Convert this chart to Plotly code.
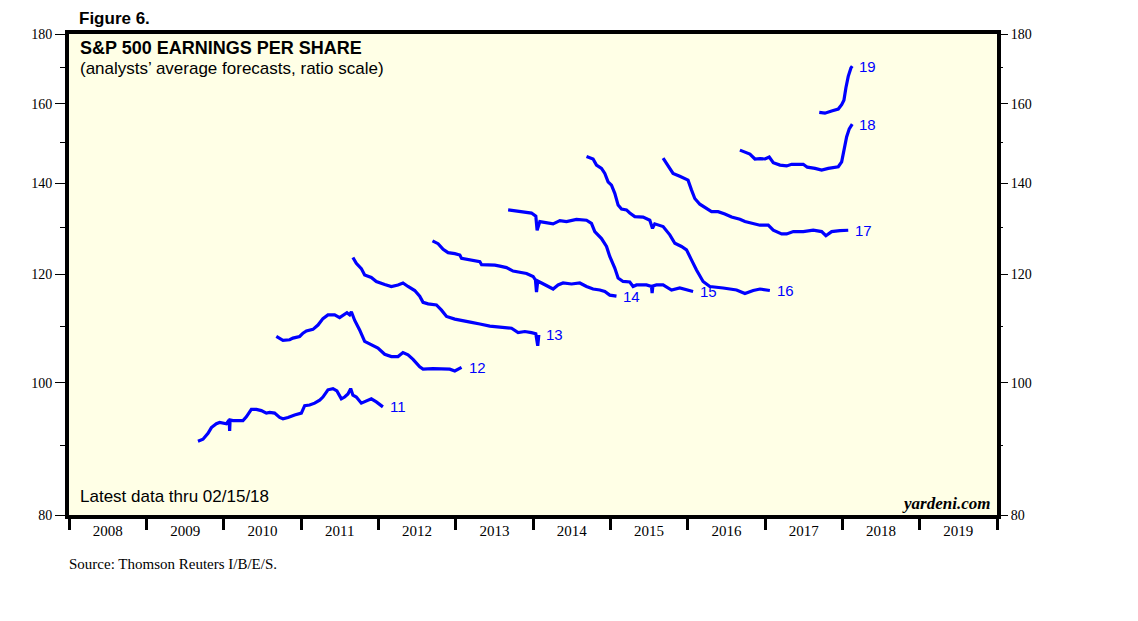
import datetime as dt
import math
import plotly.graph_objects as go

# ---------------- data (decimal years, EPS forecast $) ----------------
s11_x = [2009.666, 2009.731, 2009.796, 2009.840, 2009.904, 2009.947, 2010.034, 2010.070, 2010.076, 2010.082,
         2010.119, 2010.248, 2010.292, 2010.357, 2010.422, 2010.486, 2010.551, 2010.594, 2010.658, 2010.723,
         2010.766, 2010.831, 2010.917, 2011.004, 2011.047, 2011.111, 2011.176, 2011.241, 2011.283, 2011.348,
         2011.413, 2011.464, 2011.521, 2011.564, 2011.607, 2011.642, 2011.671, 2011.715, 2011.780, 2011.845,
         2011.909, 2011.974, 2012.059]
s11_y = [90.6, 90.9, 91.8, 92.7, 93.3, 93.5, 93.3, 93.9, 92.2, 93.9,
         93.8, 93.8, 94.4, 95.6, 95.6, 95.4, 95.0, 95.1, 95.0, 94.3,
         94.1, 94.3, 94.7, 95.0, 96.2, 96.3, 96.6, 97.1, 97.6, 98.8,
         99.0, 98.6, 97.3, 97.6, 98.1, 99.0, 97.9, 97.6, 96.6, 97.0,
         97.3, 96.8, 96.0]

s12_x = [2010.680, 2010.766, 2010.853, 2010.895, 2010.982, 2011.025, 2011.069, 2011.154, 2011.219, 2011.283,
         2011.348, 2011.435, 2011.499, 2011.564, 2011.594, 2011.629, 2011.651, 2011.693, 2011.758, 2011.823,
         2011.909, 2011.995, 2012.082, 2012.168, 2012.254, 2012.318, 2012.383, 2012.448, 2012.534, 2012.577,
         2012.706, 2012.815, 2012.922, 2012.987, 2013.074]
s12_y = [108.1, 107.4, 107.5, 107.8, 108.1, 108.7, 109.1, 109.4, 110.2, 111.4,
         112.1, 112.1, 111.6, 112.1, 112.5, 112.1, 112.7, 111.1, 109.3, 107.2,
         106.6, 106.0, 104.9, 104.5, 104.5, 105.2, 104.8, 104.0, 102.7, 102.3,
         102.4, 102.3, 102.3, 102.0, 102.6]

s13_x = [2011.671, 2011.715, 2011.780, 2011.823, 2011.909, 2011.974, 2012.082, 2012.168, 2012.254, 2012.318,
         2012.383, 2012.470, 2012.534, 2012.577, 2012.642, 2012.750, 2012.815, 2012.880, 2012.987, 2013.074,
         2013.203, 2013.311, 2013.440, 2013.570, 2013.721, 2013.806, 2013.893, 2013.979, 2014.035, 2014.060,
         2014.074]
s13_y = [123.5, 122.3, 121.2, 119.9, 119.4, 118.6, 118.0, 117.6, 117.9, 118.3,
         117.6, 116.8, 115.7, 114.5, 114.2, 114.0, 113.0, 111.8, 111.3, 111.1,
         110.7, 110.4, 110.0, 109.8, 109.6, 108.8, 109.0, 108.8, 108.6, 106.4,
         108.4]

s14_x = [2012.699, 2012.771, 2012.836, 2012.900, 2012.987, 2013.052, 2013.074, 2013.138, 2013.224, 2013.311,
         2013.333, 2013.440, 2013.505, 2013.570, 2013.656, 2013.741, 2013.828, 2013.915, 2014.000, 2014.030,
         2014.044, 2014.060, 2014.109, 2014.194, 2014.259, 2014.323, 2014.388, 2014.497, 2014.604, 2014.691,
         2014.776, 2014.863, 2014.928, 2014.992, 2015.079]
s14_y = [127.0, 126.4, 125.2, 124.5, 124.3, 124.0, 123.3, 123.1, 122.9, 122.6,
         122.0, 122.0, 121.9, 121.7, 121.4, 120.7, 120.4, 120.2, 119.6, 118.9,
         116.5, 118.7, 118.3, 117.7, 117.1, 117.9, 118.3, 118.1, 118.3, 117.6,
         117.1, 116.9, 116.6, 115.9, 115.7]

s15_x = [2013.677, 2013.785, 2013.915, 2013.979, 2014.035, 2014.052, 2014.087, 2014.174, 2014.259, 2014.346,
         2014.432, 2014.561, 2014.691, 2014.755, 2014.798, 2014.885, 2014.950, 2014.992, 2015.057, 2015.100,
         2015.164, 2015.251, 2015.294, 2015.338, 2015.467, 2015.532, 2015.540, 2015.550, 2015.596, 2015.682,
         2015.791, 2015.898, 2015.985, 2016.070]
s15_y = [133.8, 133.6, 133.4, 133.1, 132.4, 129.3, 131.2, 131.0, 130.7, 131.4,
         131.2, 131.7, 131.5, 130.8, 129.0, 127.5, 125.8, 123.7, 121.3, 119.3,
         118.6, 118.5, 117.6, 117.9, 117.9, 117.6, 116.3, 117.7, 117.9, 117.9,
         116.9, 117.3, 116.9, 116.6]

s16_x = [2014.691, 2014.776, 2014.820, 2014.885, 2014.928, 2014.970, 2015.014, 2015.057, 2015.100, 2015.144,
         2015.208, 2015.251, 2015.316, 2015.423, 2015.510, 2015.545, 2015.574, 2015.682, 2015.769, 2015.834,
         2015.920, 2015.985, 2016.049, 2016.114, 2016.199, 2016.286, 2016.458, 2016.631, 2016.739, 2016.846,
         2016.933, 2017.061]
s16_y = [146.4, 145.8, 144.3, 143.5, 142.3, 140.3, 139.5, 137.6, 134.9, 134.0,
         133.8, 133.1, 132.3, 132.2, 131.5, 129.7, 130.7, 130.1, 128.3, 126.5,
         125.8, 125.1, 123.0, 120.9, 118.6, 117.6, 117.3, 116.9, 116.2, 116.8,
         117.1, 116.8]

s17_x = [2015.682, 2015.746, 2015.811, 2015.898, 2016.005, 2016.049, 2016.092, 2016.157, 2016.243, 2016.308,
         2016.393, 2016.480, 2016.567, 2016.674, 2016.739, 2016.846, 2016.933, 2017.040, 2017.105, 2017.213,
         2017.278, 2017.364, 2017.493, 2017.622, 2017.731, 2017.786, 2017.860, 2017.967, 2018.075]
s17_y = [146.0, 144.1, 142.3, 141.6, 140.7, 138.4, 136.4, 135.1, 134.1, 133.4,
         133.4, 132.9, 132.2, 131.7, 131.2, 130.7, 130.4, 130.4, 129.3, 128.5,
         128.5, 129.0, 129.0, 129.3, 129.0, 128.1, 129.0, 129.2, 129.3]

s18_x = [2016.674, 2016.739, 2016.803, 2016.868, 2016.933, 2016.998, 2017.053, 2017.105, 2017.192, 2017.278,
         2017.343, 2017.493, 2017.545, 2017.645, 2017.731, 2017.817, 2017.946, 2017.990, 2018.019, 2018.054,
         2018.088, 2018.127]
s18_y = [148.0, 147.4, 147.0, 145.8, 145.9, 145.8, 146.3, 144.9, 144.3, 144.1,
         144.5, 144.5, 143.8, 143.5, 143.1, 143.5, 143.9, 145.1, 148.0, 151.3,
         153.4, 154.6]

s19_x = [2017.700, 2017.773, 2017.860, 2017.946, 2017.990, 2018.019, 2018.045, 2018.075, 2018.110, 2018.127]
s19_y = [157.7, 157.5, 158.1, 158.6, 159.8, 161.0, 164.4, 167.6, 170.0, 170.5]

series_labels = ["11", "12", "13", "14", "15", "16", "17", "18", "19"]
series_x = [s11_x, s12_x, s13_x, s14_x, s15_x, s16_x, s17_x, s18_x, s19_x]
series_y = [s11_y, s12_y, s13_y, s14_y, s15_y, s16_y, s17_y, s18_y, s19_y]

y_major = [80, 100, 120, 140, 160, 180]
y_minor = [90, 110, 130, 150, 170]
x_start, x_end = 2008, 2020

# ---------------- helpers ----------------
def to_date(d):
    y = int(math.floor(d))
    a = dt.datetime(y, 1, 1)
    b = dt.datetime(y + 1, 1, 1)
    return a + (b - a) * (d - y)

OFF = 8  # default page body margin
W, H = 1138, 621
PL, PT, PR, PB = 69, 34, 997, 515          # plot area on the page
ML, MT = PL - OFF, PT - OFF
PW, PH = PR - PL, PB - PT
MR, MB = W - ML - PW, H - MT - PH

def px(x):
    return (x - PL) / PW

def py(y):
    return 1 - (y - PT) / PH

BLUE = "#0000FF"
fig = go.Figure()

for lab, xs, ys in zip(series_labels, series_x, series_y):
    fig.add_trace(go.Scatter(
        x=[to_date(v) for v in xs], y=ys, mode="lines",
        line=dict(color=BLUE, width=3.2), hoverinfo="skip", showlegend=False))
    fig.add_annotation(
        x=to_date(xs[-1]), y=math.log10(ys[-1]), xref="x", yref="y",
        text=lab, showarrow=False, xanchor="left", yanchor="middle", xshift=5,
        font=dict(family="Liberation Sans, Arial", size=15, color=BLUE))

# invisible trace for the right axis
fig.add_trace(go.Scatter(x=[to_date(s19_x[0])], y=[s19_y[0]], yaxis="y2", mode="markers",
                         marker=dict(opacity=0), hoverinfo="skip", showlegend=False))

yr = [math.log10(80), math.log10(180)]
serif = "Liberation Serif, Times New Roman, serif"
yaxis_common = dict(
    type="log", range=yr, tickvals=y_major, ticktext=[str(v) for v in y_major],
    ticks="outside", ticklen=10, tickwidth=1, tickcolor="black",
    minor=dict(tickvals=y_minor, ticks="outside", ticklen=5, tickwidth=1, tickcolor="black", showgrid=False),
    showgrid=False, zeroline=False, tickfont=dict(family=serif, size=14, color="black"),
    fixedrange=True)

fig.update_layout(
    width=W, height=H, margin=dict(l=ML, r=MR, t=MT, b=MB),
    paper_bgcolor="white", plot_bgcolor="#FFFFE6",
    xaxis=dict(type="date", range=[to_date(x_start), to_date(x_end)],
               tick0="2008-01-01", dtick="M12", tickformat="%Y", ticklabelmode="period",
               ticks="outside", ticklen=11, tickwidth=3, tickcolor="black",
               ticklabelstandoff=-12,
               showline=True, linewidth=4, linecolor="black", mirror=True,
               showgrid=False, zeroline=False,
               tickfont=dict(family=serif, size=15, color="black"), fixedrange=True),
    yaxis=dict(**yaxis_common, side="left", showline=True, linewidth=4, linecolor="black", mirror=True),
    yaxis2=dict(**yaxis_common, side="right", overlaying="y", showline=False),
)

sans = "Liberation Sans, Arial, Helvetica"
anns = [
    dict(x=px(78), y=py(8), text="<b>Figure 6.</b>", size=17, family=sans, xanchor="left", yanchor="top"),
    dict(x=px(79), y=py(48), text="<b>S&P 500 EARNINGS PER SHARE</b>", size=18, family=sans, xanchor="left", yanchor="middle"),
    dict(x=px(79), y=py(68), text="(analysts’ average forecasts, ratio scale)", size=17, family=sans, xanchor="left", yanchor="middle"),
    dict(x=px(79), y=py(496), text="Latest data thru 02/15/18", size=17, family=sans, xanchor="left", yanchor="middle"),
    dict(x=px(991), y=py(503), text="<b><i>yardeni.com</i></b>", size=17, family=serif, xanchor="right", yanchor="middle"),
    dict(x=px(68), y=py(564), text="Source: Thomson Reuters I/B/E/S.", size=15, family=serif, xanchor="left", yanchor="middle"),
]
for a in anns:
    fig.add_annotation(x=a["x"], y=a["y"], xref="paper", yref="paper", text=a["text"],
                       showarrow=False, xanchor=a["xanchor"], yanchor=a["yanchor"], borderpad=0,
                       font=dict(family=a["family"], size=a["size"], color="black"))

fig.write_html("out.html")
